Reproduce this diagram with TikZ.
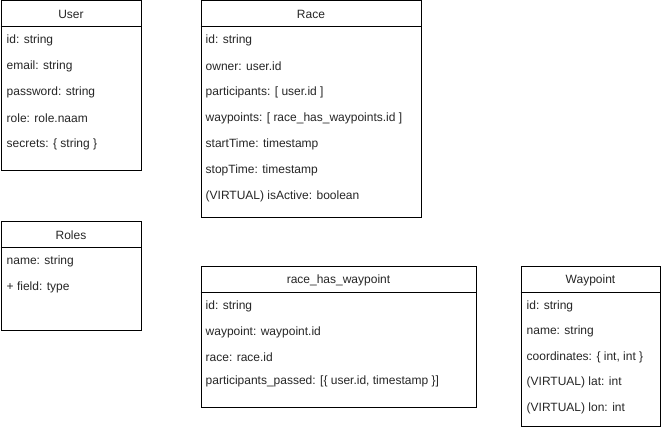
\documentclass[tikz,border=0pt]{standalone}
\usepackage{fontspec}
\setmainfont{Liberation Sans}
\begin{document}
\begin{tikzpicture}[x=1pt,y=-1pt,
  classbox/.style={draw=black,line width=1pt,fill=white,anchor=north west,inner sep=0pt},
  ctitle/.style={font=\fontsize{12}{14}\selectfont,text=black!85,inner sep=0pt},
  attr/.style={font=\fontsize{12}{14}\selectfont,text=black!85,anchor=west,inner sep=0pt},
  sep/.style={line width=1pt}]
\useasboundingbox[fill=white] (0,0) rectangle (661,427);

% User
\node[classbox,minimum width=140pt,minimum height=170pt] (user) at (0.5,0.5) {};
\draw[sep] ([yshift=-26pt]user.north west) -- ([yshift=-26pt]user.north east);
\node[ctitle] (userT) at ([yshift=-14pt]user.north) {User};
\node[attr] (u1) at ([xshift=6pt,yshift=-40pt]user.north west) {id: string};
\node[attr] (u2) at ([xshift=6pt,yshift=-66pt]user.north west) {email: string};
\node[attr] (u3) at ([xshift=6pt,yshift=-92pt]user.north west) {password: string};
\node[attr] (u4) at ([xshift=6pt,yshift=-118pt]user.north west) {role: role.naam};
\node[attr] (u5) at ([xshift=6pt,yshift=-144pt]user.north west) {secrets: \{ string \}};

% Race
\node[classbox,minimum width=220pt,minimum height=217pt] (race) at (200.5,0.5) {};
\draw[sep] ([yshift=-26pt]race.north west) -- ([yshift=-26pt]race.north east);
\node[ctitle] (raceT) at ([yshift=-14pt]race.north) {Race};
\node[attr] (r1) at ([xshift=5pt,yshift=-40pt]race.north west) {id: string};
\node[attr] (r2) at ([xshift=5pt,yshift=-66pt]race.north west) {owner: user.id};
\node[attr] (r3) at ([xshift=5pt,yshift=-92pt]race.north west) {participants: [ user.id ]};
\node[attr] (r4) at ([xshift=5pt,yshift=-118pt]race.north west) {waypoints: [ race\_has\_waypoints.id ]};
\node[attr] (r5) at ([xshift=5pt,yshift=-144pt]race.north west) {startTime: timestamp};
\node[attr] (r6) at ([xshift=5pt,yshift=-170pt]race.north west) {stopTime: timestamp};
\node[attr] (r7) at ([xshift=5pt,yshift=-196pt]race.north west) {(VIRTUAL) isActive: boolean};

% Roles
\node[classbox,minimum width=140pt,minimum height=109pt] (roles) at (0.5,221.5) {};
\draw[sep] ([yshift=-26pt]roles.north west) -- ([yshift=-26pt]roles.north east);
\node[ctitle] (rolesT) at ([yshift=-14pt]roles.north) {Roles};
\node[attr] (ro1) at ([xshift=6pt,yshift=-40pt]roles.north west) {name: string};
\node[attr] (ro2) at ([xshift=6pt,yshift=-66pt]roles.north west) {+ field: type};

% race_has_waypoint
\node[classbox,minimum width=275pt,minimum height=140pt] (rhw) at (200.5,266.5) {};
\draw[sep] ([yshift=-26pt]rhw.north west) -- ([yshift=-26pt]rhw.north east);
\node[ctitle] (rhwT) at ([yshift=-14pt]rhw.north) {race\_has\_waypoint};
\node[attr] (h1) at ([xshift=5pt,yshift=-40pt]rhw.north west) {id: string};
\node[attr] (h2) at ([xshift=5pt,yshift=-66pt]rhw.north west) {waypoint: waypoint.id};
\node[attr] (h3) at ([xshift=5pt,yshift=-91pt]rhw.north west) {race: race.id};
\node[attr] (h4) at ([xshift=5pt,yshift=-115pt]rhw.north west) {participants\_passed: [\{ user.id, timestamp \}]};

% Waypoint
\node[classbox,minimum width=139pt,minimum height=159pt] (wp) at (520.5,266.5) {};
\draw[sep] ([yshift=-26pt]wp.north west) -- ([yshift=-26pt]wp.north east);
\node[ctitle] (wpT) at ([yshift=-14pt]wp.north) {Waypoint};
\node[attr] (w1) at ([xshift=6pt,yshift=-40pt]wp.north west) {id: string};
\node[attr] (w2) at ([xshift=6pt,yshift=-65pt]wp.north west) {name: string};
\node[attr] (w3) at ([xshift=6pt,yshift=-91pt]wp.north west) {coordinates: \{ int, int \}};
\node[attr] (w4) at ([xshift=6pt,yshift=-116pt]wp.north west) {(VIRTUAL) lat: int};
\node[attr] (w5) at ([xshift=6pt,yshift=-142pt]wp.north west) {(VIRTUAL) lon: int};
\end{tikzpicture}
\end{document}
